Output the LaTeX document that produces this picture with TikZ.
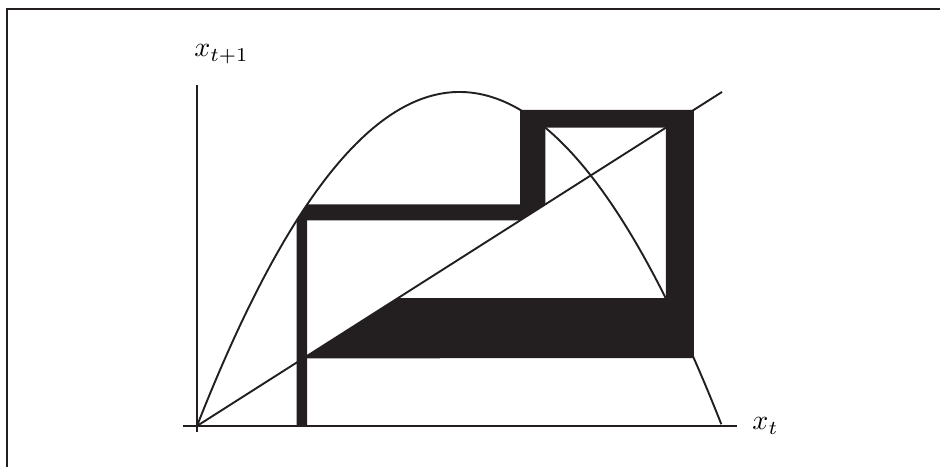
\documentclass[tikz,border=0pt]{standalone}
\definecolor{ink}{RGB}{35,31,32}
\begin{document}
\begin{tikzpicture}[x=7.245cm,y=4.609cm,
    declare function={f(\x)=4*\x*(1-\x);},
    thin line/.style={ink,line width=0.75pt},
    band/.style={fill=ink},
    axis label/.style={anchor=base west,inner sep=0,scale=1.1}]
  \useasboundingbox (-0.3752,-0.1228) rectangle (1.4152,1.2754);
  % page edge
  \draw[ink,line width=0.8pt] (-0.3619,-0.1228) |- (1.4152,1.2485);
  % interval and its images
  \pgfmathsetmacro\ao{0.19}  \pgfmathsetmacro\bo{0.21}
  \pgfmathsetmacro\ai{f(\ao)} \pgfmathsetmacro\bi{f(\bo)}
  \pgfmathsetmacro\aii{f(\bi)} \pgfmathsetmacro\bii{f(\ai)}
  \pgfmathsetmacro\aiii{f(\bii)} \pgfmathsetmacro\biii{f(\aii)}
  \fill[band] (\ao,0) -- plot[domain=\ao:\bo,samples=20] (\x,{f(\x)}) -- (\bo,0) -- cycle;
  \fill[band] plot[domain=\ao:\bo,samples=20] (\x,{f(\x)}) -- (\bi,\bi) -- (\ai,\ai) -- cycle;
  \fill[band] (\ai,\ai) -- plot[domain=\ai:\bi,samples=20] (\x,{f(\x)}) -- (\bi,\bi) -- cycle;
  \fill[band] plot[domain=\ai:\bi,samples=20] (\x,{f(\x)}) -- (\aii,\aii) -- (\bii,\bii) -- cycle;
  \fill[band] (\aii,\aii) -- plot[domain=\aii:\bii,samples=20] (\x,{f(\x)}) -- (\bii,\bii) -- cycle;
  \fill[band] plot[domain=\aii:\bii,samples=20] (\x,{f(\x)}) -- (\aiii,\aiii) -- (\biii,\biii) -- cycle;
  % axes
  \coordinate (O) at (0,0);
  \coordinate (xa) at (-0.0267,0);
  \coordinate (xb) at (1.0286,0);
  \coordinate (ya) at (0,-0.018);
  \coordinate (yb) at (0,1.021);
  \coordinate (D) at (1,1);
  \draw[thin line] (xa) -- (xb);
  \draw[thin line] (ya) -- (yb);
  \draw[thin line] plot[domain=0:1,samples=120] (\x,{f(\x)});
  \draw[thin line] (O) -- (D);
  \node[axis label] (ynext) at (-0.006,1.105) {$x_{t+1}$};
  \node[axis label] (xnow) at (1.057,-0.012) {$x_t$};
\end{tikzpicture}
\end{document}
